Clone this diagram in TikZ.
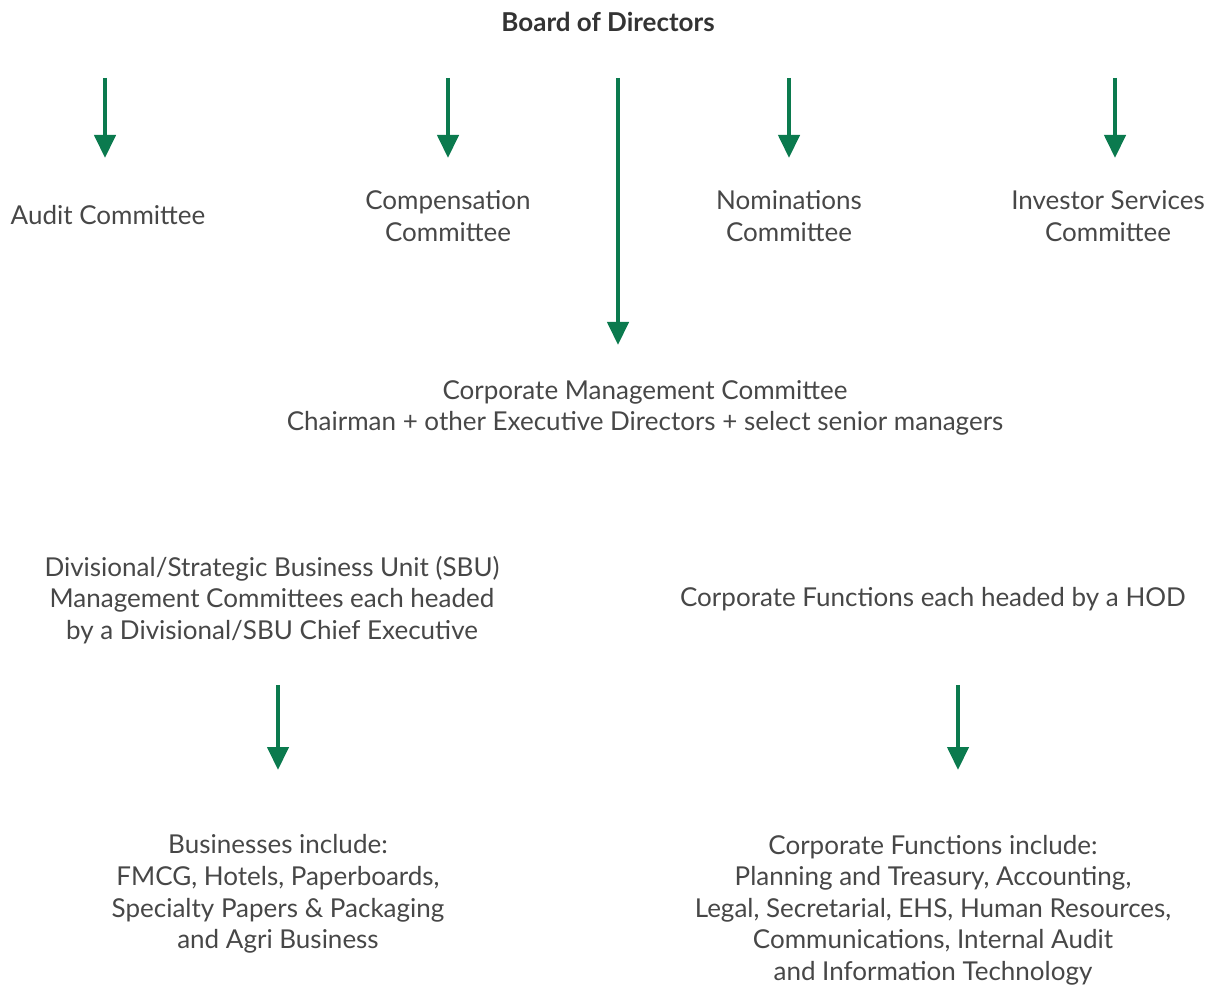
\documentclass[tikz,border=0pt]{standalone}
\usepackage{fontspec}
\setmainfont{Lato}
\usepackage{tikz}
\usetikzlibrary{arrows.meta}
\definecolor{arrowgreen}{HTML}{0B7A4E}
\definecolor{textgray}{HTML}{474747}

\begin{document}
\begin{tikzpicture}[x=0.5pt,y=-0.5pt]
\tikzset{every node/.style={inner sep=0pt,text=textgray,align=center,font=\fontsize{13}{15.8}\selectfont}}
\tikzset{arr/.style={draw=arrowgreen,line width=2.1pt,-{Triangle[length=11.5pt,width=10.5pt]}}}
\useasboundingbox (0,0) rectangle (1214,989);
% top level
\node (board) at (608,22) {\bfseries\color{black!80}Board of Directors};
\coordinate (top) at (0,78);
% committees
\node (audit) at (108,215) {Audit Committee};
\node (comp) at (448,216) {Compensation\\Committee};
\node (nom) at (789,216) {Nominations\\Committee};
\node (inv) at (1108,216) {Investor Services\\Committee};
\coordinate (audittip) at (105,158);
\coordinate (comptip) at (448,158);
\coordinate (nomtip) at (789,158);
\coordinate (invtip) at (1115,158);
\foreach \t in {audittip,comptip,nomtip,invtip}
  \draw[arr] (top -| \t) -- (\t);
% corporate management committee
\node (cmc) at (645,408) {Corporate Management Committee\\Chairman + other Executive Directors + select senior managers};
\coordinate (cmctip) at (618,345);
\draw[arr] (top -| cmctip) -- (cmctip);
% divisions and functions
\node (sbu) at (272,600) {Divisional/Strategic Business Unit (SBU)\\Management Committees each headed\\by a Divisional/SBU Chief Executive};
\node (func) at (933,599) {Corporate Functions each headed by a HOD};
\coordinate (mid) at (0,685);
\coordinate (sbutip) at (278,770);
\coordinate (functip) at (958,770);
\draw[arr] (mid -| sbutip) -- (sbutip);
\draw[arr] (mid -| functip) -- (functip);
% lists
\node (bus) at (278,894) {Businesses include:\\FMCG, Hotels, Paperboards,\\Specialty Papers \& Packaging\\and Agri Business};
\node (funclist) at (933,910) {Corporate Functions include:\\Planning and Treasury, Accounting,\\Legal, Secretarial, EHS, Human Resources,\\Communications, Internal Audit\\and Information Technology};
\end{tikzpicture}
\end{document}
